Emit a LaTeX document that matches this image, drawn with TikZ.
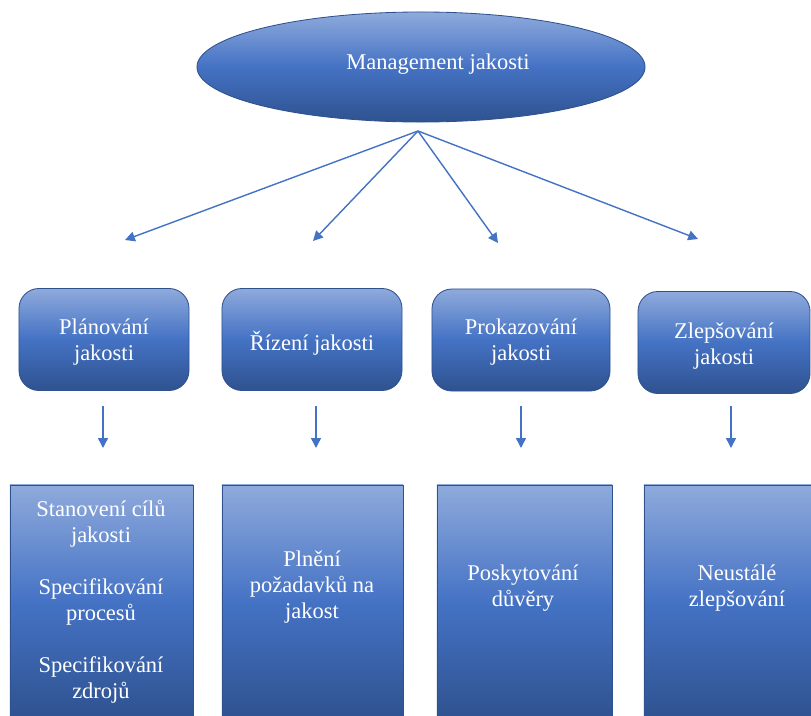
\documentclass[tikz,border=0pt]{standalone}
\usepackage{fontspec}
\setmainfont{Liberation Serif}
\usetikzlibrary{arrows.meta,shapes.geometric}
\definecolor{wlight}{RGB}{143,170,220}
\definecolor{wmid}{RGB}{68,114,196}
\definecolor{wdark}{RGB}{47,82,143}
\tikzset{
  blueshade/.style={draw=wdark,line width=0.6pt,top color=wlight,bottom color=wdark,middle color=wmid},
  topbox/.style={blueshade,rounded corners=0.5cm,minimum height=2.55cm},
  lowbox/.style={blueshade,minimum height=5.875cm},
  wtext/.style={text=white,align=center,font=\fontsize{16}{18.5}\selectfont},
  arr/.style={draw=wmid,line width=1pt,-{Triangle[length=7pt,width=7pt]}}
}
\begin{document}
\begin{tikzpicture}[x=0.025cm,y=-0.025cm]
\useasboundingbox (0,0) rectangle (811,716);
% ellipse at the top
\node [blueshade,ellipse,minimum width=11.2cm,minimum height=2.75cm] (mgmt) at (421,67) {};
\node [wtext] (mtitle) at (438,64) {Management jakosti};
% arrows from the ellipse
\coordinate (hub) at (418,131);
\coordinate (t1) at (125,240);
\coordinate (t2) at (313,241);
\coordinate (t3) at (498,243);
\coordinate (t4) at (698,239);
\draw [arr] (hub) -- (t1);
\draw [arr] (hub) -- (t2);
\draw [arr] (hub) -- (t3);
\draw [arr] (hub) -- (t4);
% rounded boxes
\node [topbox,minimum width=4.25cm] (p1) at (104,339.5) {};
\node [topbox,minimum width=4.5cm] (p2) at (312,339.5) {};
\node [topbox,minimum width=4.45cm] (p3) at (521,340) {};
\node [topbox,minimum width=4.3cm] (p4) at (724,342.5) {};
\node [wtext] (p1text) at (104,342) {Plánování\\jakosti};
\node [wtext] (p2text) at (312,343) {Řízení jakosti};
\node [wtext] (p3text) at (521,342) {Prokazování\\jakosti};
\node [wtext] (p4text) at (724,346) {Zlepšování\\jakosti};
% short arrows down
\coordinate (d1) at (103,406);
\coordinate (e1) at (103,448);
\coordinate (d2) at (316,406);
\coordinate (e2) at (316,448);
\coordinate (d3) at (521,406);
\coordinate (e3) at (521,448);
\coordinate (d4) at (731,406);
\coordinate (e4) at (731,448);
\draw [arr] (d1) -- (e1);
\draw [arr] (d2) -- (e2);
\draw [arr] (d3) -- (e3);
\draw [arr] (d4) -- (e4);
% lower boxes
\node [lowbox,minimum width=4.575cm] (b1) at (101.5,602.5) {};
\node [lowbox,minimum width=4.525cm] (b2) at (312.5,602.5) {};
\node [lowbox,minimum width=4.375cm] (b3) at (524.5,602.5) {};
\node [lowbox,minimum width=4.45cm] (b4) at (733,602.5) {};
\node [wtext] (b1text) at (101,602) {Stanovení cílů\\jakosti\\[18.5pt]Specifikování\\procesů\\[18.5pt]Specifikování\\zdrojů};
\node [wtext] (b2text) at (312,587) {Plnění\\požadavků na\\jakost};
\node [wtext] (b3text) at (523,588) {Poskytování\\důvěry};
\node [wtext] (b4text) at (737,588) {Neustálé\\zlepšování};
\end{tikzpicture}
\end{document}
